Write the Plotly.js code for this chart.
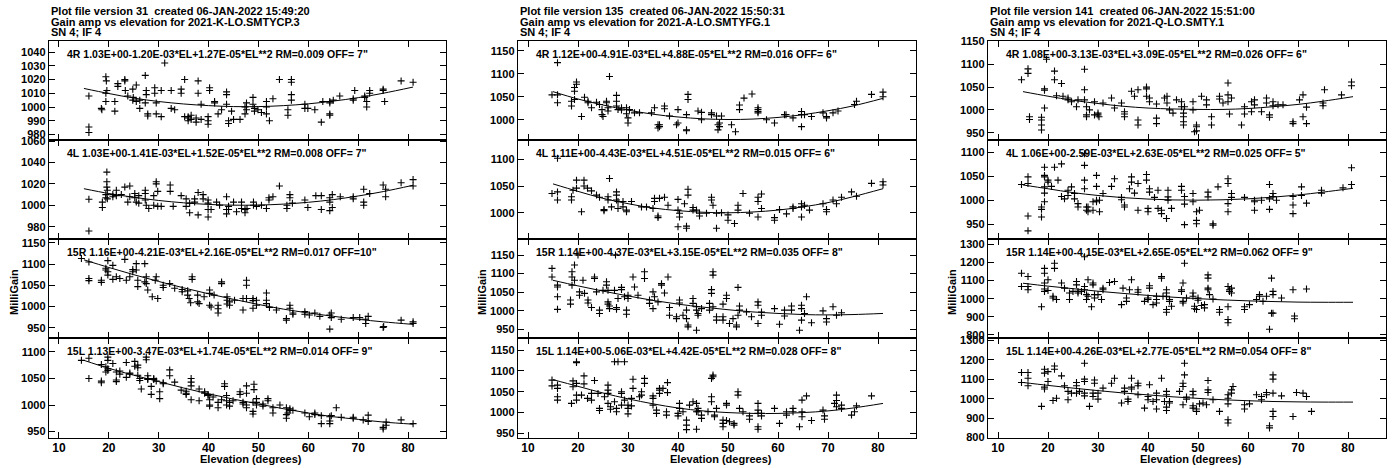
<!DOCTYPE html>
<html><head><meta charset="utf-8">
<script src="https://cdn.plot.ly/plotly-3.0.1.min.js"></script>
<style>html,body{margin:0;padding:0;background:#fff}#chart{width:1398px;height:468px}</style>
</head><body><div id="chart"></div>
<script>
// ---------------- DATA ----------------
const fitEl = [15,20,25,30,35,40,45,50,55,60,65,70,75,81];
const xTickVals = [10,20,30,40,50,60,70,80];

const headers = [
  ["Plot file version 31\u00a0 created 06-JAN-2022 15:49:20","Gain amp vs elevation for 2021-K-LO.SMTYCP.3","SN 4; IF 4"],
  ["Plot file version 135\u00a0 created 06-JAN-2022 15:50:31","Gain amp vs elevation for 2021-A-LO.SMTYFG.1","SN 4; IF 4"],
  ["Plot file version 141\u00a0 created 06-JAN-2022 15:51:00","Gain amp vs elevation for 2021-Q-LO.SMTY.1","SN 4; IF 4"]
];
const fitLabels = [
  ['4R 1.03E+00-1.20E-03*EL+1.27E-05*EL**2 RM=0.009 OFF= 7"','4L 1.03E+00-1.41E-03*EL+1.52E-05*EL**2 RM=0.008 OFF= 7"','15R 1.16E+00-4.21E-03*EL+2.16E-05*EL**2 RM=0.017 OFF=10"','15L 1.13E+00-3.47E-03*EL+1.74E-05*EL**2 RM=0.014 OFF= 9"'],
  ['4R 1.12E+00-4.91E-03*EL+4.88E-05*EL**2 RM=0.016 OFF= 6"','4L 1.11E+00-4.43E-03*EL+4.51E-05*EL**2 RM=0.015 OFF= 6"','15R 1.14E+00-4.37E-03*EL+3.15E-05*EL**2 RM=0.035 OFF= 8"','15L 1.14E+00-5.06E-03*EL+4.42E-05*EL**2 RM=0.028 OFF= 8"'],
  ['4R 1.08E+00-3.13E-03*EL+3.09E-05*EL**2 RM=0.026 OFF= 6"','4L 1.06E+00-2.59E-03*EL+2.63E-05*EL**2 RM=0.025 OFF= 5"','15R 1.14E+00-4.15E-03*EL+2.65E-05*EL**2 RM=0.062 OFF= 9"','15L 1.14E+00-4.26E-03*EL+2.77E-05*EL**2 RM=0.054 OFF= 8"']
];

// [elevation, milligain] pairs
const K_4R = [[16.0,1008],[16.0,985.5],[16.0,981.5],[18.5,999],[18.6,998],[19.4,1004],[19.4,1010],[19.4,1022],[19.5,1019],[19.6,1012],[21.2,997],[21.2,1004],[21.8,1017],[21.8,1015],[23.2,1020],[23.2,1019],[23.3,1012],[23.8,1008],[24.8,1013],[24.8,1005],[24.9,1007],[25.5,1016],[25.5,1004],[26.2,1005],[26.2,999],[27.3,1023],[27.3,1003],[27.5,1012],[27.5,1009],[27.8,993.5],[27.8,995],[29.2,1014],[29.2,1010],[29.5,1003],[29.5,995],[30.5,1012],[30.5,993],[31.2,1032],[32.5,1012],[32.5,999],[33.2,998],[34.5,1013],[34.5,1010],[35.2,1020],[35.2,993],[35.9,993],[35.9,992],[35.9,990],[36.5,994],[36.5,991],[37.5,992],[37.5,989],[37.9,1019],[37.9,1010],[38.5,1002],[38.5,991],[39.9,993],[39.9,990],[39.9,987.5],[40.2,1012],[40.2,1014],[41.2,1003],[41.2,1004],[41.9,995],[42.6,998],[43.6,1011],[43.6,1009],[43.6,1002],[44.0,990],[44.0,988],[44.6,997],[45.0,991],[46.3,991],[47.3,1000],[47.3,995],[47.6,1003],[47.6,998],[48.9,1007],[48.9,1002],[49.2,999],[49.2,997],[49.9,998],[50.6,996],[51.6,1000],[51.6,1004],[51.6,995],[52.2,990],[52.9,1006],[54.2,1020],[55.9,998],[55.9,994],[56.6,1020],[56.6,1018],[56.6,1009],[56.6,1005],[59.3,1002],[59.3,999],[59.9,999],[61.3,998],[62.6,989],[62.9,1004],[64.3,1003],[64.3,1004],[64.3,994],[64.3,995],[65.0,1005],[66.3,1008],[69.0,1006],[69.0,1005],[69.3,1012],[71.3,1008],[71.3,1007],[71.7,1004],[71.7,1000],[72.3,1012],[72.3,1010],[75.0,1013],[75.0,1012],[75.3,1004],[78.6,1019],[81.0,1018]];
const K_4L = [[16.0,1005.6],[16.0,976],[18.7,1003],[18.7,998],[19.4,1007],[19.4,1010],[19.6,1031],[19.6,1022],[19.6,1017],[19.7,1014],[19.7,1006],[20.8,1010],[20.8,1008],[21.5,1014],[21.5,1009],[22.5,1010],[23.2,1017],[23.8,1003],[24.2,1018],[24.2,1008],[25.2,1011],[25.2,1007],[25.5,1003],[26.0,1009],[26.0,1002],[27.3,1014],[27.3,1011],[27.3,1005],[27.5,1000],[28.0,997],[29.0,1009],[29.0,1000],[29.5,1022],[29.5,1020],[29.8,1013],[29.8,999],[30.5,999],[32.3,1019],[32.3,1013],[32.9,999],[34.5,1009],[35.5,999],[35.5,1006],[36.2,993],[36.2,1002],[37.2,1006],[37.2,1003],[37.9,991],[37.9,1012],[38.9,1010],[38.9,1006],[39.9,1005],[39.9,1002],[39.9,996],[39.9,989],[40.5,996],[41.6,1003],[42.2,1000],[43.6,1008],[43.6,996],[43.6,992],[44.0,999],[44.0,996],[45.0,1003],[45.6,994],[46.6,1003],[46.6,997],[47.3,996],[47.3,993],[47.7,997],[49.0,1000],[49.0,1003],[49.6,999],[50.6,1000],[51.6,997],[52.1,1005],[52.1,1007],[52.9,1008],[54.2,1018],[55.7,997],[55.7,1000],[56.3,1010],[56.3,1007],[56.8,1002],[59.3,1005],[59.9,998],[61.5,1009],[62.6,1009],[62.6,996],[64.3,1007],[64.3,1003],[64.3,995],[64.8,1010],[64.8,998],[66.4,1008],[69.0,1008],[69.0,1006],[71.1,1015],[71.1,1003],[71.1,1000],[72.3,1011],[75.0,1019],[75.5,1015],[75.5,1008],[78.6,1021],[81.0,1024],[81.0,1018]];
const K_15R = [[14.5,1113],[16.0,1105],[16.0,1066],[16.0,1061],[18.5,1062],[18.5,1057],[19.4,1090],[19.4,1086],[19.8,1108],[19.8,1082],[19.8,1074],[20.8,1097],[20.8,1064],[21.5,1070],[22.2,1066],[23.2,1111],[23.5,1062],[24.2,1070],[24.8,1087],[24.8,1082],[25.5,1101],[25.5,1086],[25.8,1062],[25.8,1047],[27.2,1101],[27.2,1058],[27.5,1070],[27.5,1054],[27.8,1039],[28.7,1023],[29.3,1062],[29.5,1070],[29.8,1019],[30.9,1050],[30.9,1045],[32.2,1054],[33.2,1043],[34.7,1040],[34.7,1035],[35.8,1037],[35.8,1027],[36.1,1019],[36.4,1009],[36.7,1070],[36.7,1064],[37.8,1027],[37.8,1011],[38.1,1007],[39.1,1023],[40.2,1039],[40.2,1031],[40.2,1003],[40.5,999],[41.1,1027],[41.9,1003],[41.9,995],[41.9,985],[42.6,1058],[42.6,1054],[43.7,1023],[43.7,1015],[43.7,1006],[44.2,1011],[44.2,1003],[45.2,1015],[46.9,992],[46.9,1019],[47.6,1062],[47.6,1050],[47.6,1019],[48.9,1019],[48.9,1014],[48.9,996],[49.6,1003],[49.6,1015],[51.6,1032],[51.6,1015],[51.6,1007],[52.2,998],[53.6,992],[55.6,972],[55.6,968],[56.3,1003],[56.3,996],[56.9,985],[56.9,982],[59.3,988],[59.3,982],[60.2,980],[61.3,985],[62.3,977],[64.3,980],[64.3,947],[64.6,985],[64.6,974],[66.6,970],[69.0,974],[70.3,974],[71.5,970],[71.5,960],[72.0,977],[75.0,951],[75.1,953],[78.6,968],[81.0,964],[81.0,960]];
const K_15L = [[14.5,1084],[16.0,1088],[16.0,1050],[18.5,1076],[18.5,1045],[18.5,1042],[19.4,1072],[19.4,1062],[19.8,1090],[19.8,1084],[19.8,1068],[19.8,1065],[20.8,1078],[21.5,1062],[21.5,1047],[21.5,1044],[22.2,1064],[22.2,1058],[23.5,1080],[23.5,1052],[24.2,1058],[24.2,1060],[25.2,1082],[25.2,1073],[25.8,1075],[25.8,1070],[25.8,1056],[26.2,1050],[26.2,1046],[26.5,1030],[27.5,1090],[27.5,1085],[27.8,1055],[27.8,1050],[27.8,1048],[28.5,1035],[28.5,1020],[29.0,1050],[29.0,1048],[29.5,1045],[30.2,1012],[30.2,1025],[30.9,1040],[30.9,1042],[32.2,1066],[32.2,1055],[33.2,1043],[34.5,1028],[35.5,1026],[35.5,1022],[35.5,1020],[36.5,1010],[36.5,1050],[36.5,1043],[36.5,1036],[38.1,1008],[38.1,1030],[39.2,1025],[39.2,1022],[39.9,1020],[39.9,1018],[40.2,1000],[40.2,998],[40.2,1010],[40.9,1015],[41.9,995],[41.9,1005],[42.6,1010],[43.2,1040],[43.2,1035],[43.6,1018],[43.6,1008],[43.6,1000],[44.2,1005],[44.2,998],[44.9,1008],[46.3,1025],[46.3,1020],[46.9,1005],[46.9,1002],[47.6,1036],[47.6,1022],[47.6,1000],[47.6,995],[49.1,1039],[49.1,1029],[48.9,1005],[48.9,988],[48.9,983],[49.6,1000],[49.6,1012],[49.6,1005],[50.9,1002],[50.9,998],[51.9,1012],[51.9,1008],[52.9,995],[52.9,985],[54.3,1000],[55.6,995],[55.6,982],[55.6,975],[55.9,985],[56.3,990],[56.3,993],[56.9,990],[59.3,985],[60.2,978],[61.3,982],[61.3,985],[62.6,980],[62.6,965],[64.3,970],[64.3,965],[64.3,978],[64.6,980],[65.6,995],[66.6,977],[69.0,975],[69.0,977],[71.0,972],[72.0,969],[72.0,981],[75.0,955],[75.0,958],[75.6,968],[75.6,962],[78.6,972],[81.0,965]];

const A_4R = [[14.8,1054],[15.9,1124],[15.9,1054],[15.9,1037],[18.7,1030],[18.7,1040],[19.3,1070],[19.3,1062],[19.3,1044],[19.7,1082],[19.7,1077],[20.7,1007],[21.3,1049],[22.0,1040],[22.0,1037],[22.7,1026],[23.7,1038],[24.3,1033],[24.8,1022],[24.8,1011],[25.0,1007],[25.7,1040],[25.7,1037],[26.0,1026],[26.0,1019],[26.3,1094],[27.7,1053],[27.7,1040],[27.7,1030],[28.0,1022],[28.7,1026],[28.7,1021],[29.7,1026],[29.7,1013],[30.0,1004],[30.0,993],[30.3,1022],[31.3,1015],[32.3,1015],[34.7,1015],[35.3,1026],[36.0,989],[36.0,982],[36.3,989],[36.3,985],[37.3,1030],[37.3,1024],[38.3,1008],[39.7,989],[40.0,1022],[40.0,993],[41.7,1011],[41.7,978],[41.7,976],[42.0,1055],[42.0,1044],[44.0,1019],[44.7,1016],[44.7,1000],[46.7,1015],[46.7,1011],[47.7,1008],[48.0,989],[48.0,978],[48.3,993],[48.3,985],[48.7,1008],[50.7,989],[51.5,974],[52.3,1032],[52.3,1022],[53.2,1047],[54.8,1056],[56.0,1026],[56.0,1022],[56.0,1018],[56.0,1015],[57.7,1000],[59.3,993],[61.3,1011],[61.6,1011],[63.0,1004],[64.7,1011],[64.7,1018],[64.7,985],[65.3,1011],[66.7,1007],[69.0,1015],[69.7,1007],[69.7,1004],[71.0,1015],[72.0,1019],[75.3,1033],[75.7,1040],[78.7,1055],[81.0,1060],[81.0,1050]];
const A_4L = [[14.8,1036],[15.9,1102],[15.9,1039],[15.9,1024],[18.7,1030],[18.7,1024],[19.0,1042],[19.7,1061],[19.7,1046],[20.7,1002],[21.2,1061],[21.2,1050],[21.9,1046],[22.7,1041],[23.7,1033],[24.3,1029],[25.2,1006],[25.2,1004],[26.0,1030],[26.0,1024],[26.3,1064],[26.7,1011],[27.7,1039],[27.7,1033],[27.7,1024],[28.0,1021],[28.0,1008],[29.0,1021],[29.0,1011],[29.7,1005],[29.7,1002],[30.7,1021],[32.7,1011],[33.7,1011],[35.0,1008],[35.3,1027],[35.3,1021],[36.0,994],[36.0,991],[36.3,1027],[37.3,1029],[38.0,1014],[40.0,1025],[40.0,1005],[40.0,974],[40.3,999],[40.3,992],[41.3,1017],[41.7,975],[41.7,971],[42.0,1044],[42.0,1033],[43.0,1010],[43.0,1005],[43.7,1005],[44.3,999],[44.3,994],[45.7,999],[46.7,1029],[46.7,1024],[47.0,1014],[47.7,971],[47.7,999],[48.7,1000],[50.0,986],[50.0,996],[51.3,980],[52.0,1014],[52.0,1005],[53.0,1036],[54.3,999],[56.0,1029],[56.0,1021],[56.0,992],[56.7,1035],[56.7,1008],[59.3,991],[59.3,986],[60.3,1006],[61.7,998],[63.0,1011],[63.0,1008],[64.7,1017],[64.7,1011],[64.7,992],[65.3,1014],[66.3,1005],[69.0,1017],[69.7,1006],[69.7,1002],[71.0,1024],[71.7,1017],[72.7,1029],[74.7,1039],[75.7,1031],[78.7,1055],[81.0,1058],[81.0,1052]];
const A_15R = [[14.8,1114],[14.8,1091],[15.9,1069],[15.9,1064],[15.9,1038],[15.9,1004],[18.5,1029],[18.5,1018],[18.8,1105],[18.8,1091],[18.8,1069],[19.3,1123],[19.3,1082],[20.0,1150],[20.3,1051],[20.3,1042],[21.0,1082],[21.3,1047],[22.0,1029],[22.0,1021],[22.7,1009],[23.3,1091],[23.3,1087],[23.7,1051],[24.3,1002],[24.3,993],[25.0,1055],[25.7,1078],[25.7,1069],[26.0,1055],[26.0,1024],[26.0,1018],[26.3,1013],[26.3,1006],[27.3,1055],[27.5,1150],[27.7,1009],[27.7,1004],[28.0,1033],[28.7,1057],[28.7,1063],[29.3,1038],[29.7,1002],[29.7,991],[30.0,1042],[30.0,1033],[31.0,1091],[31.3,1064],[32.0,1042],[33.3,1105],[33.3,1087],[34.3,1029],[34.3,1020],[35.0,1051],[35.0,1006],[35.3,1038],[36.0,1024],[36.7,1073],[36.7,1069],[37.3,1048],[38.0,1091],[38.3,1009],[38.3,988],[39.7,984],[39.7,979],[40.3,1029],[40.3,1021],[41.0,988],[41.7,1002],[41.7,979],[42.0,962],[42.0,957],[43.0,1033],[43.0,1020],[43.7,1011],[43.7,1002],[43.7,948],[44.0,993],[44.0,988],[44.7,1006],[46.3,1020],[46.3,1002],[46.7,1057],[46.7,1047],[47.0,1105],[47.0,1096],[47.0,1011],[47.7,984],[47.7,975],[49.0,1018],[49.0,984],[49.0,975],[49.7,1042],[49.7,1033],[50.3,966],[51.0,979],[51.7,957],[51.7,962],[52.0,1063],[52.0,988],[52.3,1013],[52.3,1002],[53.7,997],[54.7,984],[56.0,1024],[56.0,1015],[56.0,966],[56.7,997],[56.7,988],[59.3,1006],[60.3,964],[61.3,1002],[61.3,986],[62.7,1013],[62.7,1002],[64.3,948],[64.7,1015],[64.7,1006],[64.7,975],[65.3,993],[65.7,1038],[66.7,968],[69.0,1000],[69.7,979],[69.7,970],[71.0,1011],[71.7,988],[72.7,995]];
const A_15L = [[14.8,1078],[14.8,1064],[15.9,1066],[15.9,1058],[15.9,1038],[15.9,1030],[18.7,1022],[19.0,1076],[19.0,1062],[19.7,1122],[19.7,1120],[19.7,1070],[19.7,1042],[19.7,1030],[20.7,1042],[21.2,1088],[21.2,1069],[21.9,1034],[22.7,1030],[22.7,1046],[23.3,1077],[24.0,1046],[24.3,1010],[24.3,1005],[25.3,1038],[26.0,1066],[26.0,1054],[26.0,1046],[26.0,1022],[26.5,1014],[26.5,1008],[27.3,1122],[27.3,1026],[27.7,1010],[27.7,1002],[28.0,1122],[28.7,1050],[28.7,1046],[28.7,1018],[29.3,1122],[29.3,1030],[30.0,1018],[30.0,1010],[30.0,997],[30.7,1034],[30.7,1016],[31.0,1080],[31.0,1058],[32.3,1038],[32.7,1050],[32.7,1042],[33.3,1082],[33.3,1070],[35.0,1040],[35.0,1034],[35.0,1018],[35.7,1006],[35.7,998],[36.3,1058],[36.3,1054],[36.3,1046],[37.0,1058],[37.7,1002],[37.7,994],[37.9,1072],[37.9,1048],[40.0,998],[40.0,992],[40.3,1022],[40.3,1010],[41.0,1002],[41.7,982],[41.7,970],[41.7,959],[42.3,1018],[43.0,1026],[43.7,1022],[43.7,1002],[43.7,960],[44.0,1010],[44.0,1002],[44.7,994],[44.7,986],[46.0,1002],[46.7,1082],[46.7,1038],[46.7,1026],[47.0,1090],[47.0,1086],[47.3,994],[47.3,990],[47.7,1010],[49.0,982],[49.0,974],[49.0,966],[49.7,1022],[49.7,1018],[49.7,981],[50.3,978],[51.2,974],[51.2,970],[52.0,1050],[52.0,1042],[52.3,1010],[53.0,1002],[54.3,992],[54.3,984],[56.0,1022],[56.0,1006],[56.0,998],[56.0,966],[56.0,960],[56.7,998],[56.7,992],[59.3,1010],[60.3,974],[61.7,1002],[61.7,994],[63.0,1010],[63.0,1002],[64.3,966],[64.8,1030],[64.8,1002],[64.8,990],[65.7,1040],[66.7,981],[69.0,1006],[69.3,992],[69.3,984],[71.3,1022],[71.7,1042],[71.7,1029],[71.7,1014],[72.7,1018],[72.7,1010],[74.7,994],[75.3,1002],[75.7,1016],[78.7,1040]];

const Q_4R = [[14.7,1066],[16.0,1090],[16.0,1080],[16.3,985],[16.3,979],[18.7,984],[18.7,978],[18.7,967],[18.7,956],[19.3,1046],[19.3,1043],[19.3,1004],[19.7,1111],[21.3,1085],[21.3,1066],[21.7,1031],[22.7,1058],[23.0,1030],[24.0,1026],[24.0,1022],[24.7,1018],[25.7,1007],[26.0,1022],[27.3,1089],[27.3,1044],[27.3,1022],[27.7,1007],[27.7,989],[27.7,985],[28.3,1000],[29.3,1018],[29.3,989],[30.0,993],[30.0,989],[30.2,985],[31.0,1015],[32.7,1026],[33.3,1004],[34.7,1015],[35.3,996],[35.3,991],[35.3,985],[36.7,1041],[37.3,1030],[38.0,1044],[38.0,978],[38.0,967],[39.7,1050],[39.7,1046],[39.7,1030],[40.3,1026],[40.3,1018],[41.7,1013],[41.7,982],[41.7,970],[43.3,1026],[43.8,1030],[43.8,1015],[44.3,1000],[45.0,993],[45.7,1022],[46.7,1018],[46.7,1007],[47.1,993],[47.1,985],[47.1,974],[47.1,967],[47.3,1007],[49.0,1018],[49.0,1000],[49.3,952],[49.7,967],[49.7,963],[49.7,954],[50.7,1030],[51.7,1022],[51.7,1011],[52.7,985],[52.7,967],[54.3,1030],[54.3,1024],[55.0,1015],[56.0,1059],[56.0,1033],[56.0,1018],[56.3,991],[56.7,1026],[58.7,967],[59.3,1007],[59.3,991],[60.7,1018],[60.7,996],[61.3,1022],[61.3,1011],[62.7,996],[63.7,1026],[63.7,1015],[64.3,989],[64.3,984],[65.0,1018],[65.0,1009],[66.0,1011],[67.0,1011],[69.0,974],[69.0,970],[70.3,1022],[71.0,1033],[71.0,985],[71.7,1006],[71.7,970],[75.0,1015],[75.0,1009],[75.3,1044],[78.7,1033],[80.7,1061],[80.7,1053]];
const Q_4L = [[14.7,1033],[16.0,1049],[16.0,1035],[16.0,967],[16.0,936],[18.7,986],[18.7,981],[18.7,965],[19.3,1069],[19.3,1052],[19.3,1049],[19.3,1028],[19.3,1015],[19.3,997],[20.0,1042],[20.0,1038],[20.7,1029],[21.3,1069],[22.0,1042],[22.7,1076],[22.7,1008],[23.3,1003],[24.0,1021],[24.0,1010],[24.7,1028],[25.3,1003],[25.3,1014],[26.0,993],[26.0,986],[27.3,1097],[27.3,1073],[27.3,1042],[27.3,1024],[27.7,986],[27.7,979],[28.0,986],[28.0,976],[29.0,979],[29.0,997],[29.7,1052],[29.7,1029],[29.7,1000],[29.7,997],[30.3,1000],[30.3,976],[31.0,1014],[32.7,1029],[33.3,1045],[34.7,1006],[34.7,1001],[35.3,990],[35.3,986],[36.3,1024],[36.7,1049],[36.7,1038],[37.3,1015],[38.0,979],[38.0,1035],[39.7,1054],[39.7,1042],[40.0,983],[40.0,976],[40.3,1024],[40.3,1017],[41.3,1006],[42.0,1021],[42.0,983],[42.7,979],[42.7,972],[43.7,962],[44.0,1021],[44.0,1007],[44.0,1000],[44.7,983],[46.7,1029],[46.7,1021],[47.3,1008],[47.3,992],[47.3,949],[49.0,1014],[49.0,997],[49.7,976],[49.7,958],[49.7,951],[50.3,979],[52.0,1017],[52.0,1007],[53.0,951],[53.0,948],[54.0,1028],[56.0,1045],[56.0,1035],[56.0,993],[56.0,976],[56.7,1014],[56.7,1006],[59.3,1006],[61.3,1000],[61.3,997],[61.3,979],[62.7,1000],[64.3,1033],[64.3,1003],[64.3,981],[65.0,1014],[65.0,1008],[65.7,1000],[69.0,1008],[69.0,990],[69.0,972],[70.7,1028],[70.7,1010],[71.7,994],[74.7,1021],[74.7,1015],[79.0,1026],[80.7,1068],[80.7,1033]];
const Q_15R = [[14.7,1140],[14.7,1067],[16.0,1122],[16.0,1067],[16.0,1049],[18.7,955],[19.3,1167],[19.3,1140],[19.3,1086],[19.3,1053],[19.3,1040],[20.0,1104],[20.0,1045],[21.0,1013],[21.0,1004],[21.3,1195],[21.3,1167],[21.7,995],[22.7,1086],[23.3,1058],[24.3,1031],[24.3,995],[25.0,1040],[25.7,1095],[25.7,1076],[26.0,1040],[26.0,1031],[26.7,1040],[27.3,1231],[27.3,1067],[27.3,1049],[27.7,1022],[27.7,995],[28.0,1104],[28.0,1013],[28.7,955],[29.0,1086],[29.0,1076],[29.3,1022],[29.3,1004],[30.0,1022],[30.7,995],[31.0,1058],[31.0,1049],[32.3,1089],[33.3,1095],[34.7,967],[35.0,1058],[35.7,1004],[35.7,985],[36.3,1049],[36.7,1104],[38.0,1049],[38.0,1035],[39.3,985],[40.0,1004],[40.0,995],[40.3,1071],[40.3,1058],[41.0,967],[41.7,1013],[41.7,995],[41.7,976],[42.7,1122],[42.7,1113],[43.0,1013],[43.7,1049],[43.7,1031],[43.7,1013],[43.7,940],[43.7,925],[44.3,995],[44.3,985],[44.7,958],[46.7,1049],[46.7,1040],[47.0,1086],[47.0,985],[47.0,976],[47.3,1195],[47.7,1004],[49.0,1031],[49.0,1013],[49.3,958],[49.3,944],[49.7,940],[50.0,1004],[50.0,991],[50.7,962],[51.3,967],[51.3,949],[52.0,1131],[52.0,1113],[52.0,1058],[52.0,1049],[52.3,1022],[53.0,998],[54.3,940],[54.3,925],[56.0,1067],[56.0,955],[56.0,885],[56.0,867],[56.3,1049],[56.3,1040],[56.7,1058],[56.7,1031],[59.3,955],[59.3,940],[60.3,967],[61.7,995],[62.3,1022],[62.3,1013],[63.0,985],[63.7,1013],[64.3,831],[64.7,1113],[64.7,920],[65.0,1040],[65.0,1022],[65.0,920],[66.7,1004],[69.0,1049],[69.3,904],[69.3,889],[71.7,1053]];
const Q_15L = [[14.7,1135],[14.7,1084],[16.0,1135],[16.0,1106],[16.0,1067],[18.7,961],[19.3,1152],[19.3,1132],[19.3,1060],[19.3,1050],[20.0,1140],[20.0,1089],[21.0,991],[21.3,1169],[21.3,1152],[21.7,1003],[22.7,1118],[23.3,1067],[24.0,1038],[24.0,995],[24.7,1029],[25.7,1084],[25.7,1067],[25.7,1029],[26.3,1038],[27.3,1183],[27.3,1101],[27.3,1089],[27.3,1029],[27.3,1015],[28.3,961],[29.0,1029],[29.0,1012],[29.3,1097],[29.3,1080],[30.0,1029],[30.0,998],[31.0,1055],[32.7,1080],[33.3,1106],[34.7,978],[35.3,1055],[35.3,1038],[36.0,998],[36.0,986],[36.7,1106],[36.7,1060],[36.7,1050],[38.0,1080],[38.0,1067],[38.0,1021],[39.3,952],[40.0,1012],[40.0,995],[40.3,1072],[41.0,986],[41.7,1029],[41.7,995],[41.7,947],[42.7,1106],[43.3,986],[43.7,1038],[43.7,1021],[43.7,957],[43.7,940],[44.3,986],[44.3,978],[46.3,1038],[47.0,1080],[47.0,1063],[47.0,969],[47.3,1183],[47.3,1123],[47.7,1009],[47.7,998],[49.0,1038],[49.0,1021],[49.0,964],[49.0,952],[49.7,947],[49.7,935],[50.3,974],[51.0,978],[51.7,969],[52.0,1094],[52.0,1046],[52.0,1032],[53.0,995],[54.3,935],[56.0,1021],[56.0,1003],[56.0,974],[56.0,892],[56.0,875],[56.7,1046],[56.7,1029],[57.0,1063],[59.3,969],[59.3,947],[60.3,974],[61.7,1021],[62.7,1012],[62.7,995],[63.7,1032],[63.7,1021],[64.3,861],[64.3,850],[65.0,1123],[65.0,1101],[65.0,1029],[65.0,935],[65.0,909],[66.7,1015],[69.0,909],[69.7,1032],[71.0,1029],[71.7,1012],[72.7,935]];

// fitted curves read at fitEl
const fit_K_4R  = [1013.5,1009.8,1006.5,1004,1002.2,1001,1000.3,1000.3,1001,1002.3,1004.3,1006.8,1010,1014.5];
const fit_K_4L  = [1015.5,1011,1007.5,1004.5,1002.3,1000.8,1000.1,1000.2,1001.1,1002.8,1005.3,1008.7,1012.8,1018.7];
const fit_K_15R = [1110,1092,1075,1059,1044,1030,1017,1005,994,985,977,970,964,958];
const fit_K_15L = [1084,1069,1056,1044,1032,1021,1011,1002,993,985,978,973,968,964];
const fit_A_4R  = [1061,1045,1032,1021,1012,1006,1002,1000.5,1001.5,1005,1011,1019.5,1030,1046.5];
const fit_A_4L  = [1054,1040,1027,1017,1009,1004,1001,1000,1001.5,1005,1011,1019,1030,1045];
const fit_A_15R = [1082,1067,1053,1040,1028,1018,1010,1003,997,993,990,989,990,993];
const fit_A_15L = [1079,1063,1047,1033,1021,1011,1004,1000,998,998,1000,1004,1011,1022];
const fit_Q_4R  = [1040,1030,1021,1014,1008,1004,1002,1001,1001,1003,1007,1012,1019,1029];
const fit_Q_4L  = [1032,1024,1016,1010,1005.5,1002.5,1000.7,1000.2,1001,1003,1006.5,1011,1017,1025];
const fit_Q_15R = [1085,1069,1055,1041,1029,1018,1008,1000,993,988,984,981,980,980];
const fit_Q_15L = [1084,1069,1055,1042,1030,1020,1010,1002,995,990,986,984,983,983];

// ---------------- LAYOUT CONFIG ----------------
const W = 1398, H = 468;
const colLeft = [49, 518, 988], colRight = [446, 916, 1386];
const rowTop = [41, 140, 239, 338], rowBot = [140, 239, 338, 438];
const panels = [
  [ {pts:K_4R, fit:fit_K_4R, range:[976,1048], dtick:10}, {pts:K_4L, fit:fit_K_4L, range:[968.5,1061], dtick:20},
    {pts:K_15R, fit:fit_K_15R, range:[926,1159], dtick:50}, {pts:K_15L, fit:fit_K_15L, range:[938,1126], dtick:50} ],
  [ {pts:A_4R, fit:fit_A_4R, range:[956,1171], dtick:50}, {pts:A_4L, fit:fit_A_4L, range:[951,1136], dtick:50},
    {pts:A_15R, fit:fit_A_15R, range:[927,1193], dtick:50}, {pts:A_15L, fit:fit_A_15L, range:[939,1179], dtick:50} ],
  [ {pts:Q_4R, fit:fit_Q_4R, range:[934,1151], dtick:50}, {pts:Q_4L, fit:fit_Q_4L, range:[919,1126], dtick:50},
    {pts:Q_15R, fit:fit_Q_15R, range:[783,1329], dtick:100}, {pts:Q_15L, fit:fit_Q_15L, range:[798,1313], dtick:100} ]
];
const FONT = 'Liberation Sans, Arial, Helvetica, sans-serif';
const px = v => v / W, py = v => 1 - v / H;

const traces = [];
const layout = {
  width: W, height: H, margin: {l:0, r:0, t:0, b:0},
  paper_bgcolor: '#fff', plot_bgcolor: '#fff', showlegend: false,
  font: {family: FONT, color: '#000'},
  annotations: []
};

let idx = 0;
for (let c = 0; c < 3; c++) {
  for (let r = 0; r < 4; r++) {
    idx++;
    const p = panels[c][r];
    const xa = idx === 1 ? 'x' : 'x' + idx, ya = idx === 1 ? 'y' : 'y' + idx;
    const xk = idx === 1 ? 'xaxis' : 'xaxis' + idx, yk = idx === 1 ? 'yaxis' : 'yaxis' + idx;
    traces.push({
      x: p.pts.map(d => d[0]), y: p.pts.map(d => d[1]), xaxis: xa, yaxis: ya,
      type: 'scatter', mode: 'markers', hoverinfo: 'skip',
      marker: {symbol: 'cross-thin-open', size: 5, color: '#000', line: {width: 1.1, color: '#000'}}
    });
    traces.push({
      x: fitEl, y: p.fit, xaxis: xa, yaxis: ya, type: 'scatter', mode: 'lines', hoverinfo: 'skip',
      line: {color: '#000', width: 1, shape: 'spline'}
    });
    layout[xk] = {
      domain: [px(colLeft[c]), px(colRight[c])], anchor: ya, range: [8, 87.6],
      tickvals: xTickVals, ticktext: xTickVals.map(String), showticklabels: r === 3,
      ticks: 'inside', ticklen: 6, tickwidth: 1, tickcolor: '#000',
      showline: true, linecolor: '#000', linewidth: 1.2, mirror: 'ticks',
      showgrid: false, zeroline: false, ticklabelstandoff: -2,
      tickfont: {family: FONT, size: 12, color: '#000', weight: 'bold'}
    };
    layout[yk] = {
      domain: [py(rowBot[r]), py(rowTop[r])], anchor: xa, range: p.range,
      dtick: p.dtick, tick0: 0,
      ticks: 'inside', ticklen: 6, tickwidth: 1, tickcolor: '#000',
      showline: true, linecolor: '#000', linewidth: 1.2, mirror: 'ticks',
      showgrid: false, zeroline: false,
      tickfont: {family: FONT, size: 11, color: '#000', weight: 'bold'}
    };
    layout.annotations.push({
      xref: 'paper', yref: 'paper', x: px(colLeft[c] + 16), y: py(rowTop[r] + 13),
      xanchor: 'left', yanchor: 'middle', showarrow: false, text: fitLabels[c][r],
      font: {family: FONT, size: 10.5, color: '#000', weight: 'bold'}
    });
  }
  // header lines
  const hy = [11, 22, 32];
  headers[c].forEach((t, i) => layout.annotations.push({
    xref: 'paper', yref: 'paper', x: px(colLeft[c]), y: py(hy[i]), xanchor: 'left', yanchor: 'middle',
    showarrow: false, text: t, font: {family: FONT, size: 11, color: '#000', weight: 'bold'}
  }));
  // axis titles
  const ylx = [14, 482, 952][c];
  layout.annotations.push({
    xref: 'paper', yref: 'paper', x: px(ylx), y: py(292), xanchor: 'center', yanchor: 'middle',
    textangle: -90, showarrow: false, text: 'MilliGain',
    font: {family: FONT, size: 11, color: '#000', weight: 'bold'}
  });
  const exc = [251, 721, 1191][c];
  layout.annotations.push({
    xref: 'paper', yref: 'paper', x: px(exc), y: py(459), xanchor: 'center', yanchor: 'middle',
    showarrow: false, text: 'Elevation (degrees)',
    font: {family: FONT, size: 11, color: '#000', weight: 'bold'}
  });
}

Plotly.newPlot('chart', traces, layout, {displayModeBar: false, staticPlot: true});
</script>
</body></html>
